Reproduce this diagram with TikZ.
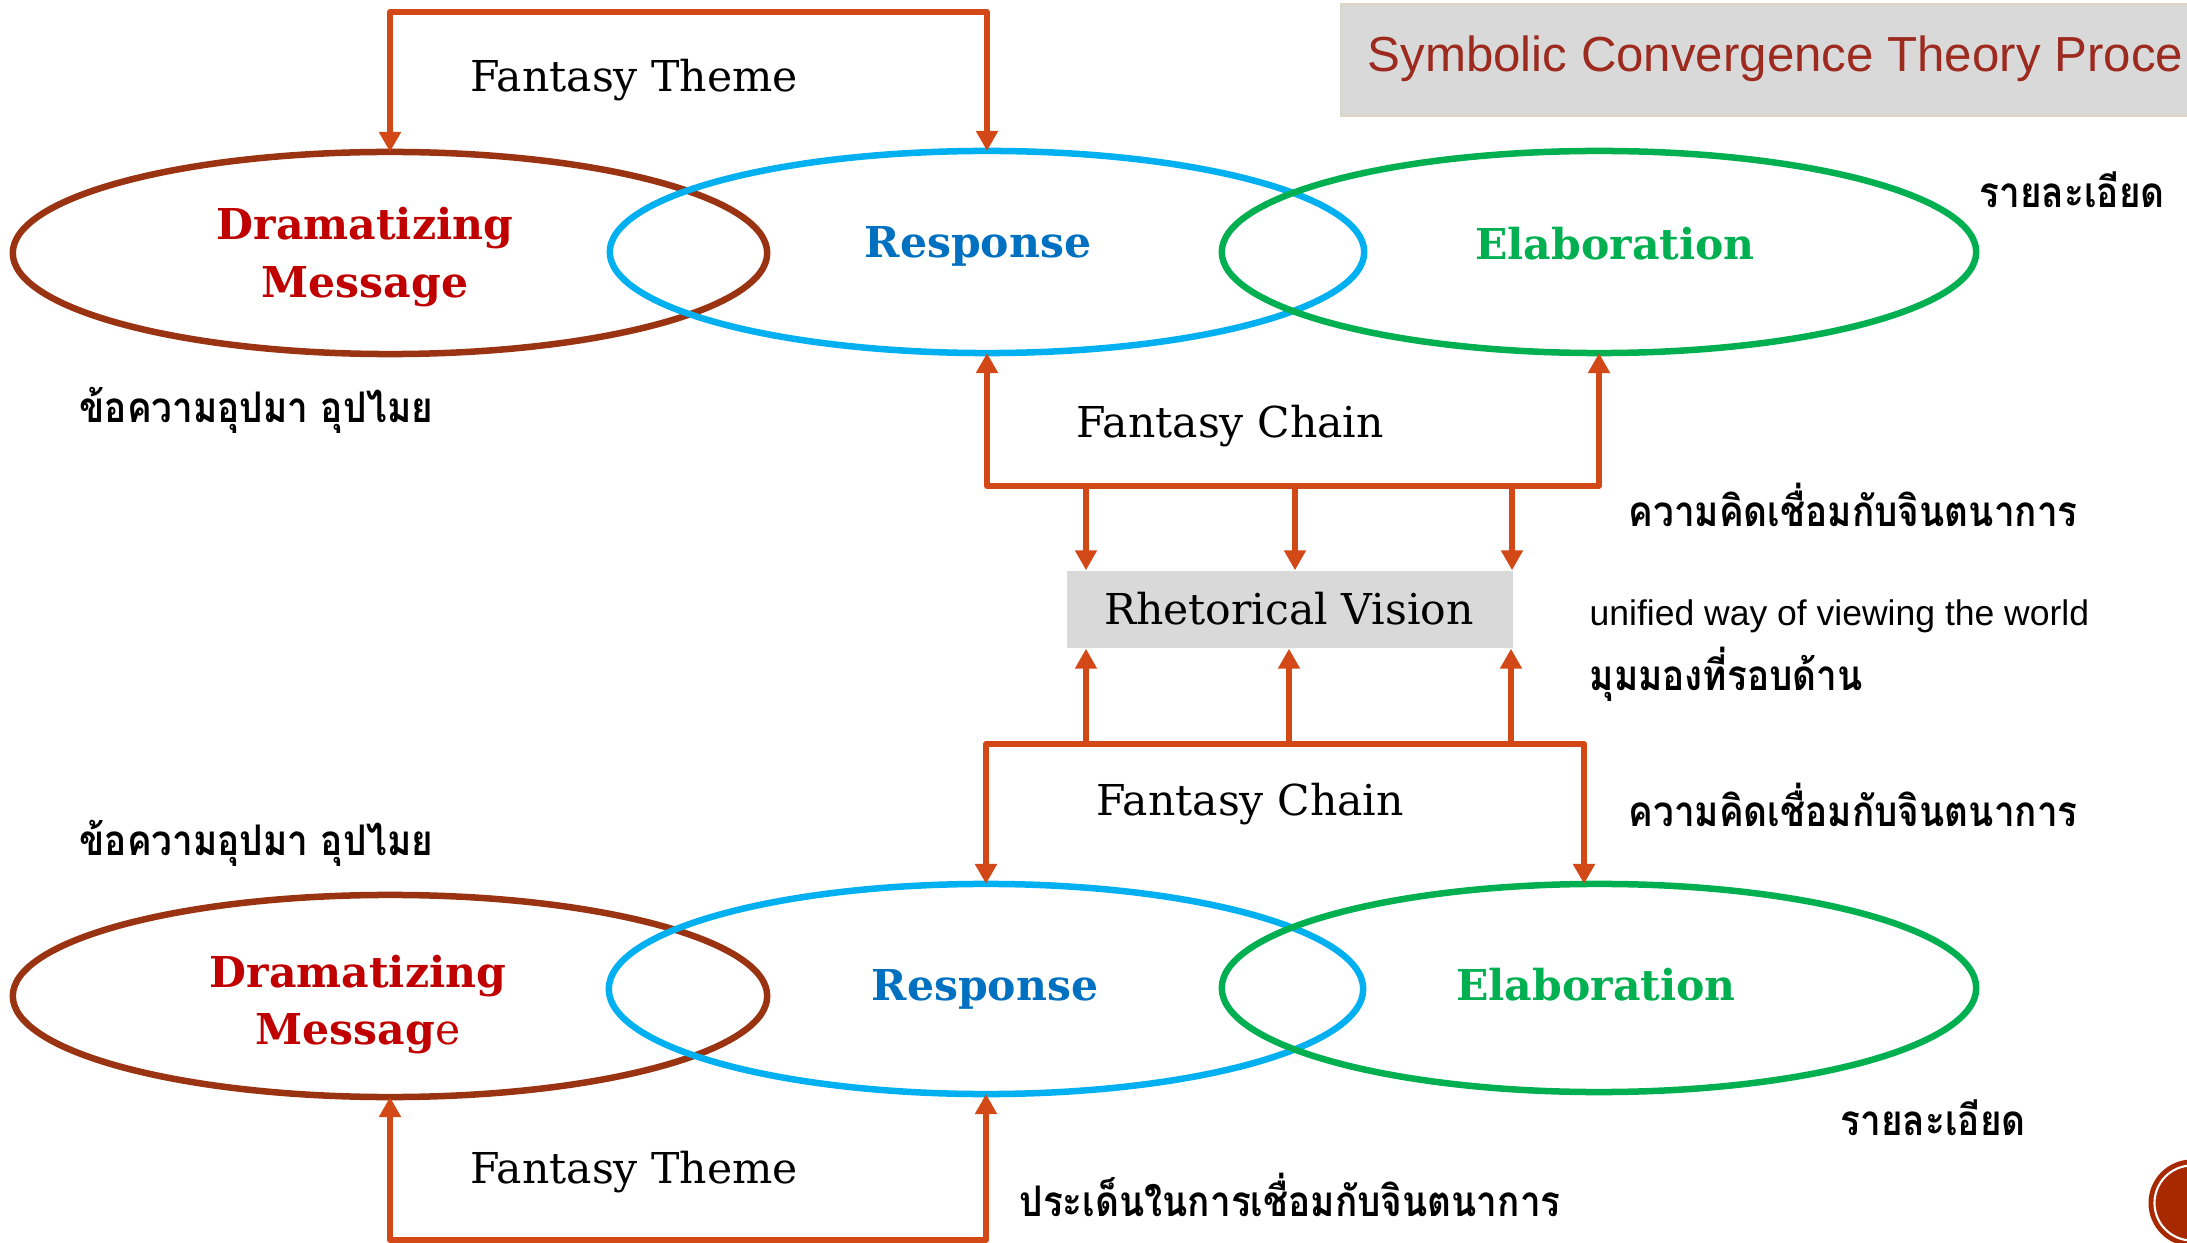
\documentclass[tikz,border=0pt]{standalone}
\usepackage{fontspec}
\setmainfont{DejaVu Serif}
\newfontfamily\thaifont[Script=Thai, FakeStretch=0.875]{Loma}
\newfontfamily\sansfont{Liberation Sans}
\usetikzlibrary{arrows.meta,shapes.geometric}

\definecolor{dramred}{RGB}{192,0,0}
\definecolor{dramedge}{RGB}{153,51,17}
\definecolor{respblue}{RGB}{0,112,192}
\definecolor{respedge}{RGB}{0,176,240}
\definecolor{elabgreen}{RGB}{0,176,80}
\definecolor{flow}{RGB}{211,72,23}
\definecolor{panel}{RGB}{217,217,217}
\definecolor{panelrim}{RGB}{221,213,197}
\definecolor{titlered}{RGB}{156,42,30}
\definecolor{badge}{RGB}{168,40,0}

\tikzset{
  phase/.style={ellipse, draw, line width=1.85pt, inner sep=0pt, outer sep=0pt,
    minimum width=7.54cm, minimum height=2.02cm},
  head/.style={font=\fontsize{12.1}{14}\selectfont\bfseries, anchor=base, inner sep=0pt},
  slabtxt/.style={font=\fontsize{12.1}{14}\selectfont, anchor=base, inner sep=0pt},
  thaitxt/.style={font=\thaifont\bfseries\fontsize{12}{14}\selectfont, anchor=base west, inner sep=0pt},
  engtxt/.style={font=\sansfont\fontsize{10.1}{12}\selectfont, anchor=base west, inner sep=0pt},
  tip/.tip={Triangle[width=0.21cm,length=0.2cm]},
  link/.style={draw=flow, line width=1.65pt, line join=round, -tip},
  biline/.style={draw=flow, line width=1.65pt, line join=round, tip-tip},
}

\begin{document}
\begin{tikzpicture}[x=0.01cm, y=-0.01cm]
\useasboundingbox (0,0) rectangle (2187,1243);
\clip (0,0) rectangle (2187,1243);

% title panel
\node[draw=panelrim, fill=panel, line width=0.6pt, anchor=north west, inner sep=0pt,
  minimum width=8.6cm, minimum height=1.12cm] (title) at (1340,3) {};
\node[font=\sansfont\fontsize{14}{16}\selectfont, text=titlered, anchor=base west, inner sep=0pt]
  (titletext) at (1367,72) {Symbolic Convergence Theory Proce};

% upper row of phases
\node[phase, draw=dramedge] (dm1) at (390,253) {};
\node[phase, draw=respedge] (rs1) at (987,252) {};
\node[phase, draw=elabgreen] (el1) at (1599,252) {};
\node[head, text=dramred] (dm1a) at (365,240) {Dramatizing};
\node[head, text=dramred] (dm1b) at (365,298) {Message};
\node[head, text=respblue] (rs1l) at (978,258) {Response};
\node[head, text=elabgreen] (el1l) at (1615,260) {Elaboration};

% fantasy theme, upper
\coordinate (ft1) at (690,12);
\draw[biline] (dm1.north) |- (ft1) -| (rs1.north);
\node[slabtxt] (ft1l) at (634,92) {Fantasy Theme};

\node[thaitxt] (det1) at (1979,208) {รายละเอียด};
\node[thaitxt] (met1) at (79,423) {ข้อความอุปมา อุปไมย};

% fantasy chain, upper
\coordinate (fc1) at (1300,486);
\draw[biline] (rs1.south) |- (fc1) -| (el1.south);
\node[slabtxt] (fc1l) at (1230,438) {Fantasy Chain};
\node[thaitxt] (img1) at (1628,527) {ความคิดเชื่อมกับจินตนาการ};

% rhetorical vision
\node[fill=panel, inner sep=0pt, minimum width=4.46cm, minimum height=0.77cm] (rv) at (1290,609.5) {};
\node[slabtxt] (rvl) at (1289,625) {Rhetorical Vision};
\node[engtxt] (uni) at (1589,626) {unified way of viewing the world};
\node[thaitxt] (uni2) at (1589,690) {มุมมองที่รอบด้าน};

\coordinate (d1) at (1086,486);
\coordinate (d2) at (1295,486);
\coordinate (d3) at (1512,486);
\draw[link] (d1) -- (d1 |- rv.north);
\draw[link] (d2) -- (d2 |- rv.north);
\draw[link] (d3) -- (d3 |- rv.north);

\coordinate (u1) at (1086,744);
\coordinate (u2) at (1289,744);
\coordinate (u3) at (1511,744);
\draw[link] (u1) -- (u1 |- rv.south);
\draw[link] (u2) -- (u2 |- rv.south);
\draw[link] (u3) -- (u3 |- rv.south);

% lower row of phases
\node[phase, draw=dramedge] (dm2) at (390,996) {};
\node[phase, draw=respedge, minimum height=2.1cm] (rs2) at (986,989) {};
\node[phase, draw=elabgreen, minimum height=2.08cm] (el2) at (1599,988) {};
\node[head, text=dramred] (dm2a) at (358,987) {Dramatizing};
\node[head, text=dramred] (dm2b) at (358,1044) {Messag{\mdseries e}};
\node[head, text=respblue] (rs2l) at (985,1000) {Response};
\node[head, text=elabgreen] (el2l) at (1596,1000) {Elaboration};

% fantasy chain, lower
\coordinate (fc2) at (1300,744);
\coordinate (fc2r) at (1584,744);
\draw[biline] (rs2.north) |- (fc2) -| (fc2r) -- (fc2r |- el2.north);
\node[slabtxt] (fc2l) at (1250,815) {Fantasy Chain};
\node[thaitxt] (img2) at (1628,826) {ความคิดเชื่อมกับจินตนาการ};
\node[thaitxt] (met2) at (79,855) {ข้อความอุปมา อุปไมย};
\node[thaitxt] (det2) at (1840,1135) {รายละเอียด};

% fantasy theme, lower
\coordinate (ft2) at (690,1240);
\draw[biline] (dm2.south) |- (ft2) -| (rs2.south);
\node[slabtxt] (ft2l) at (634,1183) {Fantasy Theme};
\node[thaitxt] (iss) at (1019,1216) {ประเด็นในการเชื่อมกับจินตนาการ};

% page badge
\node[circle, fill=badge, inner sep=0pt, minimum size=0.87cm] (pg) at (2192,1203) {};
\draw[white, line width=0.6pt] (pg.center) circle (0.375cm);
\end{tikzpicture}
\end{document}
